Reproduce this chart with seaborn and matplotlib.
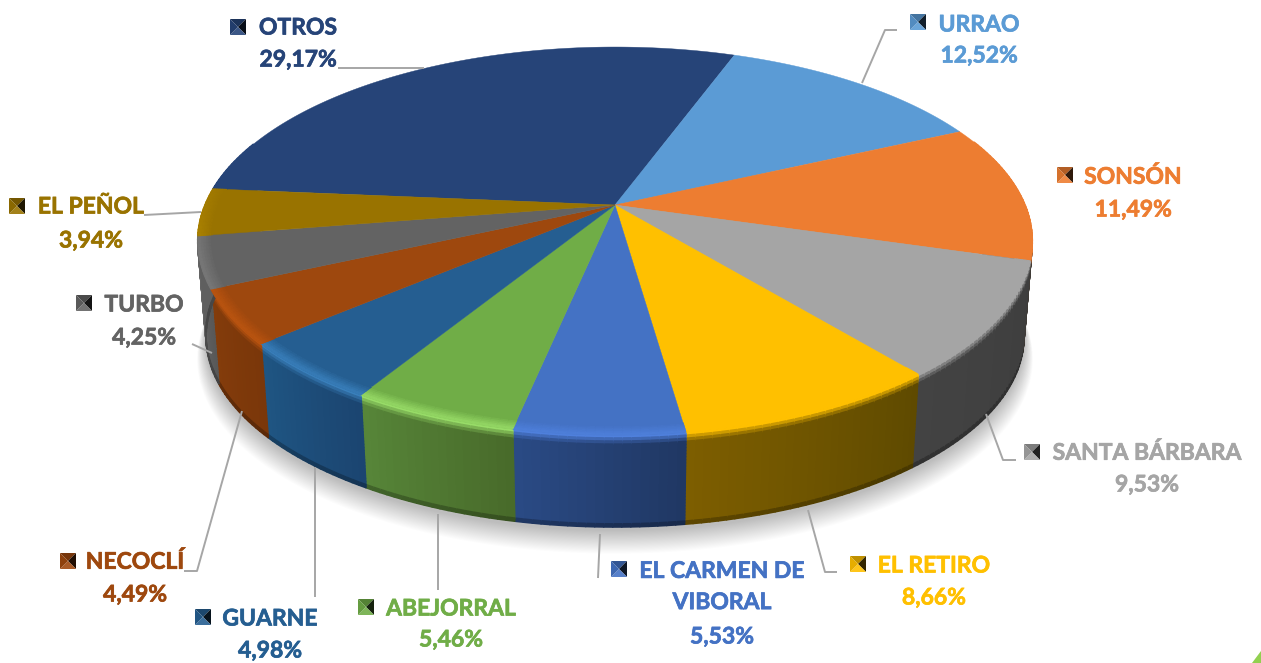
# -*- coding: utf-8 -*-
import numpy as np
import pandas as pd
import matplotlib
matplotlib.use("Agg")
import matplotlib.pyplot as plt
import matplotlib.patheffects as pe
from matplotlib.collections import PolyCollection
from matplotlib.colors import to_rgb
import seaborn as sns

# chart data
names = ["OTROS", "URRAO", "SONSÓN", "SANTA BÁRBARA", "EL RETIRO", "EL CARMEN DE\nVIBORAL",
         "ABEJORRAL", "GUARNE", "NECOCLÍ", "TURBO", "EL PEÑOL"]
values = [29.17, 12.52, 11.49, 9.53, 8.66, 5.53, 5.46, 4.98, 4.49, 4.25, 3.94]

# colours
top_hex = ["#264478", "#5b9bd5", "#ed7d31", "#a5a5a5", "#ffc000", "#4472c4",
           "#70ad47", "#255e91", "#9e480e", "#636363", "#997300"]
high_hex = ["#264478", "#5b9bd5", "#ed7d31", "#a5a5a5", "#ffc000", "#4f80dc",
            "#98dc68", "#3a80bc", "#bc5510", "#7a7a7a", "#b08600"]
wall_light = ["#5f5f5f", "#404040", "#403c38", "#434343", "#7d5e00", "#2a4a85",
              "#578639", "#1f5583", "#843c0b", "#666666", "#5f5f5f"]
wall_dark = ["#5f5f5f", "#404040", "#403c38", "#3e3e3e", "#5f4a00", "#203763",
             "#486a2a", "#1b4570", "#7a370a", "#585858", "#5f5f5f"]

# label layout in pixels: name centre, value centre, key centre
name_xy = [(298, 28), (979, 25), (1133, 177), (1147, 453), (934, 566), (722, 587),
           (451, 609), (270, 619), (135, 562), (144, 305), (91, 207)]
value_xy = [(298, 60), (979, 56), (1133, 210), (1147, 485), (934, 598), (722, 637),
            (451, 640), (270, 651), (135, 595), (144, 338), (91, 241)]
key_xy = [(238, 27), (918, 22), (1065, 175), (1032, 452), (858, 564), (619, 569),
          (366, 607), (203, 617), (68, 561), (84, 303), (17, 206)]
leaders = [[(338, 68), (424, 68)],
           [(862, 83), (885, 30), (897, 30)],
           None,
           [(986, 414), (1003, 460), (1016, 460)],
           [(808, 510), (825, 572), (837, 572)],
           [(600, 534), (598, 578)],
           [(438, 514), (438, 590)],
           [(315, 467), (315, 597)],
           [(242, 411), (197, 571), (184, 571)],
           [(192, 344), (212, 353)],
           [(144, 215), (201, 212)]]

# pie geometry (perspective view of a disc)
CX, CY = 615, 205
A, B, K = 410, 187.3, 0.1856
DEPTH, SHRINK = 96.6, 0.98
START = -85.0


def proj(theta, r=1.0, s=1.0, dy=0.0):
    u = r * np.sin(theta)
    v = r * np.cos(theta)
    w = 1 + K * v
    return np.column_stack([CX + s * A * u / w, CY + dy - s * B * v / w])


def mix(a, b, t):
    return tuple((1 - t) * np.array(a) + t * np.array(b))


sns.set_theme(style="white")
plt.rcParams["font.family"] = ["Lato", "DejaVu Sans"]

df = pd.DataFrame({"name": names, "value": values})
df["share"] = df["value"] / df["value"].sum()
df["end"] = np.radians(START) + 2 * np.pi * df["share"].cumsum()
df["start"] = df["end"] - 2 * np.pi * df["share"]

tops = sns.color_palette(top_hex)
highs = sns.color_palette(high_hex)
w_light = [to_rgb(c) for c in wall_light]
w_dark = [to_rgb(c) for c in wall_dark]

fig = plt.figure(figsize=(12.61, 6.63), dpi=100)
ax = fig.add_axes([0, 0, 1, 1])
ax.set_xlim(0, 1261)
ax.set_ylim(663, 0)
ax.axis("off")

# soft shadow under the disc
full = np.linspace(0, 2 * np.pi, 361)
for i in range(22):
    grow = 1.0 + (22 - i) * 0.0010
    ax.fill(*proj(full, s=SHRINK * grow, dy=DEPTH + 3 + (22 - i) * 0.85).T,
            color="#000000", alpha=0.011, lw=0, zorder=1)

wall_polys, wall_cols = [], []
rim_polys, rim_cols = [], []
bands = np.linspace(0, 1, 31)
rim_r = np.linspace(0.965, 1.0, 7)

for i, row in df.iterrows():
    n = max(int(np.degrees(row["end"] - row["start"])), 2)
    th = np.linspace(row["start"], row["end"], n + 1)
    for j in range(n):
        mid = 0.5 * (th[j] + th[j + 1])
        c = np.cos(mid)
        f = np.clip((0.25 - c) / 0.5, 0, 1)
        frac = (j + 0.5) / n
        base = mix(w_dark[i], w_light[i], frac)
        pair = th[j:j + 2]
        # side wall, top to bottom
        if c < 0.35:
            for b0, b1 in zip(bands[:-1], bands[1:]):
                p0 = proj(pair, s=1 + (SHRINK - 1) * b0, dy=DEPTH * b0)
                p1 = proj(pair, s=1 + (SHRINK - 1) * b1, dy=DEPTH * b1)
                wall_polys.append(np.vstack([p0, p1[::-1]]))
                col = base
                if b0 < 0.09:
                    col = mix(highs[i], base, min(b0 / 0.09, 1))
                elif b1 > 0.97:
                    col = mix(base, (0, 0, 0), 0.25)
                wall_cols.append(col)
        # rounded edge on the top face
        if f > 0:
            for r0, r1 in zip(rim_r[:-1], rim_r[1:]):
                p0 = proj(pair, r=r0)
                p1 = proj(pair, r=r1)
                rim_polys.append(np.vstack([p0, p1[::-1]]))
                t = (r0 - rim_r[0]) / (1 - rim_r[0])
                rim_cols.append(mix(tops[i], highs[i], t * f))

ax.add_collection(PolyCollection(wall_polys, facecolors=wall_cols, edgecolors="face", linewidths=1.2, zorder=2))

# top face
for i, row in df.iterrows():
    th = np.linspace(row["start"], row["end"], 200)
    outline = np.vstack([[(CX, CY)], proj(th)])
    ax.fill(outline[:, 0], outline[:, 1], color=tops[i], lw=0.3, zorder=3)

ax.add_collection(PolyCollection(rim_polys, facecolors=rim_cols, edgecolors="face", linewidths=0.8, zorder=4))

# leader lines
for pts in leaders:
    if pts is not None:
        xs, ys = zip(*pts)
        ax.plot(xs, ys, color="#a6a6a6", lw=1.4, zorder=5, solid_capstyle="butt")

# labels with bevelled square keys
H = 8
for i, row in df.iterrows():
    col = tops[i]
    thick = [pe.withStroke(linewidth=0.5, foreground=col)]
    ax.text(*name_xy[i], row["name"], color=col, fontsize=16.5, fontweight="bold",
            ha="center", va="center", linespacing=1.6, zorder=6, path_effects=thick)
    ax.text(*value_xy[i], f"{row['value']:.2f}%".replace(".", ","), color=col, fontsize=16.5,
            fontweight="bold", ha="center", va="center", zorder=6, path_effects=thick)
    kx, ky = key_xy[i]
    nw, ne, se, sw = (kx - H, ky - H), (kx + H, ky - H), (kx + H, ky + H), (kx - H, ky + H)
    mid = (kx, ky)
    faces = [((nw, ne, mid), mix(col, (0, 0, 0), 0.25)),
             ((ne, se, mid), mix(col, (0, 0, 0), 0.8)),
             ((se, sw, mid), mix(col, (1, 1, 1), 0.1)),
             ((sw, nw, mid), mix(col, (0, 0, 0), 0.1))]
    for tri, shade in faces:
        xs, ys = zip(*tri)
        ax.fill(xs, ys, color=shade, lw=0, zorder=6)

# corner of the slide background
ax.fill([1252, 1261, 1261], [663, 663, 651], color="#92d050", lw=0, zorder=6)

fig.savefig("out.png", dpi=100, facecolor="white")
plt.close()
